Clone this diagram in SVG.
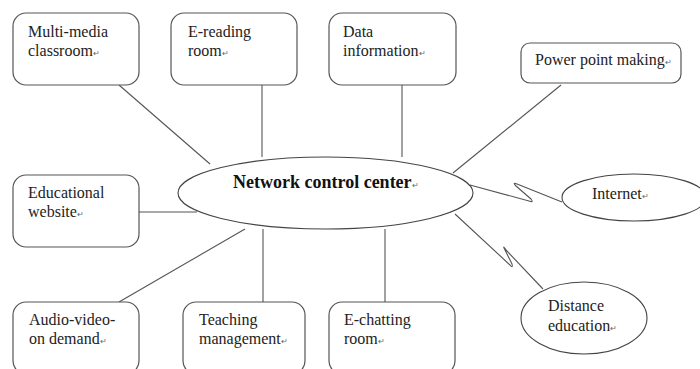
<svg xmlns="http://www.w3.org/2000/svg" width="700" height="369" viewBox="0 0 700 369">
<style>
.box{fill:#fff;stroke:#555;stroke-width:1.2}
.ell{fill:#fff;stroke:#444;stroke-width:1.1}
.con{fill:none;stroke:#555;stroke-width:1.1;stroke-linejoin:round}
text{font-family:"Liberation Serif","Times New Roman",serif;font-size:16px;fill:#222}
.bold{font-weight:bold;font-size:18px;fill:#111}
.rm{font-size:8px;fill:#666}
</style>
<rect width="700" height="369" fill="#fff"/>
<g id="connectors">
<line class="con" x1="119" y1="85" x2="210" y2="164"/>
<line class="con" x1="262" y1="85" x2="262" y2="157"/>
<line class="con" x1="402" y1="85" x2="402" y2="157"/>
<line class="con" x1="561" y1="85" x2="453" y2="173"/>
<line class="con" x1="139" y1="212" x2="197" y2="212"/>
<line class="con" x1="245" y1="229" x2="119" y2="302"/>
<line class="con" x1="263" y1="229" x2="263" y2="302"/>
<line class="con" x1="385" y1="229" x2="385" y2="302"/>
<path class="con" d="M470,185 L529,201 Q534,203 531,199 L516,186 Q512,182 517,184 L562,202"/>
<path class="con" d="M455,214 L510,265 Q513,269 512,264 L505,250 Q502,244 506,250 L543,289"/>
</g>
<g id="center">
<ellipse class="ell" cx="325.5" cy="193" rx="147.5" ry="36"/>
<text class="bold" x="233" y="188">Network control center<tspan class="rm" font-weight="normal">↵</tspan></text>
</g>
<g id="multimedia">
<rect class="box" x="13" y="13" width="126" height="72" rx="13"/>
<text x="28" y="37">Multi-media</text>
<text x="28" y="56">classroom<tspan class="rm">↵</tspan></text>
</g>
<g id="ereading">
<rect class="box" x="171" y="13" width="126" height="72" rx="13"/>
<text x="188" y="37">E-reading</text>
<text x="188" y="56">room<tspan class="rm">↵</tspan></text>
</g>
<g id="data">
<rect class="box" x="329" y="13" width="127" height="72" rx="13"/>
<text x="343" y="37">Data</text>
<text x="343" y="56">information<tspan class="rm">↵</tspan></text>
</g>
<g id="powerpoint">
<rect class="box" x="521" y="43" width="160" height="40" rx="9"/>
<text x="535" y="65">Power point making<tspan class="rm">↵</tspan></text>
</g>
<g id="educational">
<rect class="box" x="13" y="175" width="126" height="72" rx="13"/>
<text x="28" y="198">Educational</text>
<text x="28" y="217">website<tspan class="rm">↵</tspan></text>
</g>
<g id="internet">
<ellipse class="ell" cx="634" cy="197.5" rx="72" ry="23.5"/>
<text x="592" y="199">Internet<tspan class="rm">↵</tspan></text>
</g>
<g id="distance">
<ellipse class="ell" cx="584" cy="318" rx="63" ry="36"/>
<text x="548" y="311">Distance</text>
<text x="548" y="331">education<tspan class="rm">↵</tspan></text>
</g>
<g id="audiovideo">
<rect class="box" x="13" y="302" width="126" height="72" rx="13"/>
<text x="29" y="325">Audio-video-</text>
<text x="29" y="344">on demand<tspan class="rm">↵</tspan></text>
</g>
<g id="teaching">
<rect class="box" x="183" y="302" width="122" height="72" rx="13"/>
<text x="199" y="325">Teaching</text>
<text x="199" y="344">management<tspan class="rm">↵</tspan></text>
</g>
<g id="echatting">
<rect class="box" x="329" y="302" width="126" height="72" rx="13"/>
<text x="344" y="325">E-chatting</text>
<text x="344" y="344">room<tspan class="rm">↵</tspan></text>
</g>
</svg>
